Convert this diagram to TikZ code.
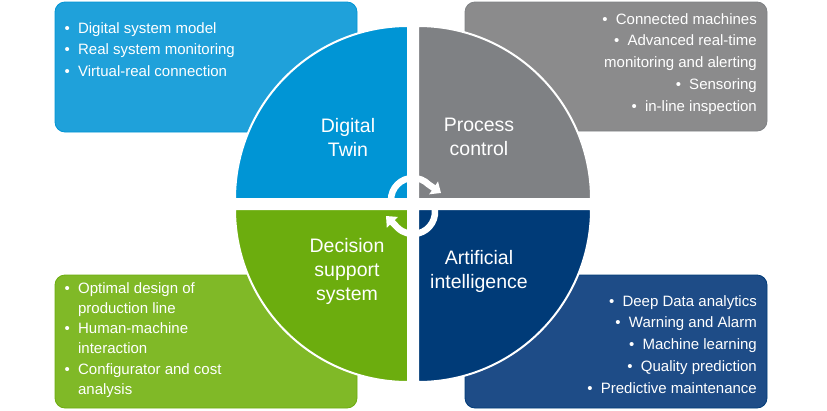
\documentclass[tikz,border=0pt]{standalone}
\usepackage{fontspec}
\setmainfont{Liberation Sans}
\usetikzlibrary{arrows.meta}
\definecolor{blau}{HTML}{0095D5}
\definecolor{blaul}{HTML}{1FA1DA}
\definecolor{grau}{HTML}{7F8184}
\definecolor{graul}{HTML}{8B8B8C}
\definecolor{gruen}{HTML}{6CAD0E}
\definecolor{gruenl}{HTML}{80B927}
\definecolor{nacht}{HTML}{003B78}
\definecolor{nachtl}{HTML}{1E4C87}
\newcommand\punkt{\makebox[13.5pt][l]{\textbullet}}
\newcommand\einzug{\hspace*{13.5pt}}
\tikzset{
  kasten/.style={rounded corners=10pt,line width=0.8pt},
  viertel/.style={draw=white,line width=2pt},
  pfeil/.style={-{Triangle[length=9pt,width=15pt]},white,line width=6.5pt},
  titel/.style={text=white,align=center,inner sep=0pt,anchor=north,font=\fontsize{19.5}{24}\selectfont},
  punkte/.style={text=white,inner sep=0pt,font=\fontsize{15}{21.8}\selectfont},
}

\begin{document}
\begin{tikzpicture}[x=1pt,y=-1pt]
  \useasboundingbox (0,0) rectangle (827,410);
  % boxes
  \filldraw[kasten,fill=blaul,draw=blau] (55,2) rectangle (357,132);
  \filldraw[kasten,fill=graul,draw=grau] (465,2) rectangle (767,131);
  \filldraw[kasten,fill=gruenl,draw=gruen] (55,275) rectangle (357,408);
  \filldraw[kasten,fill=nachtl,draw=nacht] (465,275) rectangle (767,408);
  % quarters
  \filldraw[viertel,fill=blau] (408,199) -- (235,199) arc[start angle=180,end angle=270,radius=173] -- cycle;
  \filldraw[viertel,fill=grau] (418,199) -- (418,26) arc[start angle=270,end angle=360,radius=173] -- cycle;
  \filldraw[viertel,fill=gruen] (408,209) -- (408,382) arc[start angle=90,end angle=180,radius=173] -- cycle;
  \filldraw[viertel,fill=nacht] (418,209) -- (591,209) arc[start angle=0,end angle=90,radius=173] -- cycle;
  % cycle arrows
  \draw[pfeil] ([shift={(-180:22)}]413,200) arc[start angle=-180,end angle=-45,radius=22] -- (441,193);
  \draw[pfeil] ([shift={(-15:22)}]413,212) arc[start angle=-15,end angle=135,radius=22] -- (386,216);
  % titles
  \node[titel] (dt) at (348,118) {Digital\\Twin};
  \node[titel] (pc) at (479,118) {Process\\control};
  \node[titel] (dss) at (347,238) {Decision\\support\\system};
  \node[titel] (ai) at (479,250) {Artificial\\intelligence};
  % lists
  \node[punkte,anchor=north west,align=left] (dtl) at (64.4,22) {\punkt Digital system model\\
    \punkt Real system monitoring\\ \punkt Virtual-real connection};
  \node[punkte,anchor=north east,align=right] (pcl) at (757,13) {\punkt Connected machines\\
    \punkt Advanced real-time\\ monitoring and alerting\\ \punkt Sensoring\\ \punkt in-line inspection};
  \node[punkte,anchor=north west,align=left,font=\fontsize{15}{20.3}\selectfont] (dssl) at (64.4,282)
    {\punkt Optimal design of\\ \einzug production line\\ \punkt Human-machine\\ \einzug interaction\\
    \punkt Configurator and cost\\ \einzug analysis};
  \node[punkte,anchor=north east,align=right] (ail) at (757,295) {\punkt Deep Data analytics\\
    \punkt Warning and Alarm\\ \punkt Machine learning\\ \punkt Quality prediction\\ \punkt Predictive maintenance};
\end{tikzpicture}
\end{document}
